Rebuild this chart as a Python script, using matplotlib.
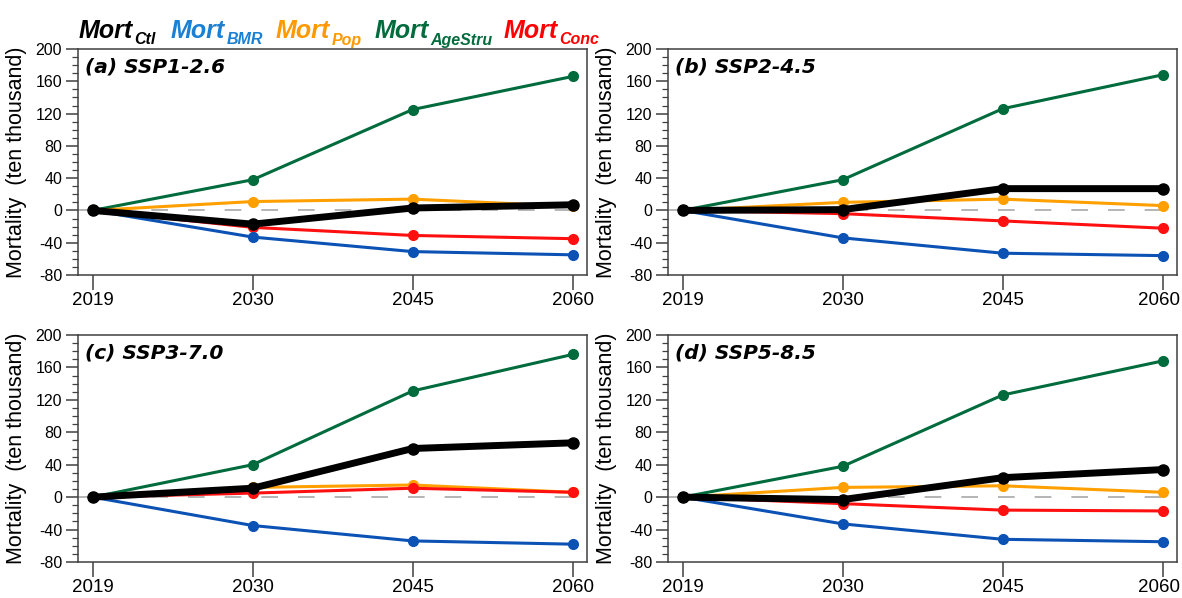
import numpy as np
import matplotlib
matplotlib.use('Agg')
from matplotlib import pyplot as plt
from matplotlib.ticker import MultipleLocator
from matplotlib.transforms import ScaledTranslation

plt.rcParams['font.family'] = ['Liberation Sans', 'DejaVu Sans']
plt.rcParams['axes.unicode_minus'] = False

years = ['2019', '2030', '2045', '2060']
panels = ['(a) SSP1-2.6', '(b) SSP2-4.5', '(c) SSP3-7.0', '(d) SSP5-8.5']

# mortality change relative to 2019 (ten thousand), one row per scenario
mort_agestru = [[0, 38, 125, 166],
                [0, 38, 126, 168],
                [0, 40, 131, 176],
                [0, 38, 126, 168]]
mort_pop = [[0, 11, 14, 5],
            [0, 10, 14, 6],
            [0, 12, 15, 6],
            [0, 12, 14, 6]]
mort_conc = [[0, -21, -31, -35],
             [0, -4, -13, -22],
             [0, 5, 11, 6],
             [0, -8, -16, -17]]
mort_bmr = [[0, -33, -51, -55],
            [0, -34, -53, -56],
            [0, -35, -54, -58],
            [0, -33, -52, -55]]
mort_ctl = [[0, -17, 3, 7],
            [0, 1, 27, 27],
            [0, 11, 60, 67],
            [0, -3, 24, 34]]

c_ctl = 'black'
c_bmr = '#0b52b4'
c_pop = '#ffa000'
c_age = '#006b3c'
c_conc = '#ff1010'

fig = plt.figure(figsize=(11.82, 5.98), dpi=100)
W, H = 1182, 598
boxes = [(78, 49, 587, 275), (668, 49, 1177, 275),
         (78, 335, 587, 562), (668, 335, 1177, 562)]

x = np.arange(len(years))
for i, (l, t, r, b) in enumerate(boxes):
    ax = fig.add_axes([l / W, 1 - b / H, (r - l) / W, (b - t) / H])
    ax.axhline(0, color='#a8a8a8', lw=1.2, ls=(0, (10, 12)), zorder=1)
    for vals, c in [(mort_agestru, c_age), (mort_pop, c_pop),
                    (mort_conc, c_conc), (mort_bmr, c_bmr)]:
        ax.plot(x, vals[i], color=c, lw=2.2, marker='o', ms=7, zorder=2)
    ax.plot(x, mort_ctl[i], color=c_ctl, lw=5, marker='o', ms=8, zorder=3)

    ax.set_xlim(-0.092, 3.09)
    ax.set_ylim(-80, 200)
    ax.set_xticks(x)
    ax.set_xticklabels(years, fontsize=13.5)
    ax.yaxis.set_major_locator(MultipleLocator(40))
    ax.yaxis.set_minor_locator(MultipleLocator(10))
    ax.tick_params(axis='x', direction='out', length=11, width=1.1,
                   color='#404040', pad=1.5)
    ax.tick_params(axis='y', which='major', direction='out', length=9,
                   width=1.1, color='#404040', labelsize=11.5, pad=2.5)
    ax.tick_params(axis='y', which='minor', direction='out', length=4.5,
                   width=0.9, color='#404040')
    for s in ax.spines.values():
        s.set_color('#404040')
        s.set_linewidth(1.1)
    if i % 2 == 1:
        # keep the last year label inside the figure edge
        last = ax.get_xticklabels()[-1]
        last.set_transform(last.get_transform() +
                           ScaledTranslation(-4 / 100, 0, fig.dpi_scale_trans))
    ax.set_ylabel('Mortality  (ten thousand)', fontsize=15.5)
    ax.yaxis.set_label_coords(-0.1, 0.5)
    ax.text(0.014, 0.962, panels[i], transform=ax.transAxes, ha='left',
            va='top', fontsize=14.5, fontweight='bold', fontstyle='italic',
            family='DejaVu Sans')

# legend row above the top panels: "Mort" plus a smaller subscript
subs = ['Ctl', 'BMR', 'Pop', 'AgeStru', 'Conc']
lcolors = [c_ctl, '#1a80d4', '#ff9900', c_age, '#ff0000']
lx = [79, 171, 276, 375, 504]
renderer = fig.canvas.get_renderer()
base_y = 1 - 38.5 / H
for sub, c, px in zip(subs, lcolors, lx):
    main = fig.text(px / W, base_y, 'Mort', color=c, fontsize=18,
                    fontweight='bold', fontstyle='italic',
                    ha='left', va='baseline')
    x1 = main.get_window_extent(renderer).x1
    fig.text((x1 + 1) / W, base_y - 6 / H, sub, color=c, fontsize=11.5,
             fontweight='bold', fontstyle='italic', ha='left', va='baseline')

plt.savefig('out.png', dpi=100)
